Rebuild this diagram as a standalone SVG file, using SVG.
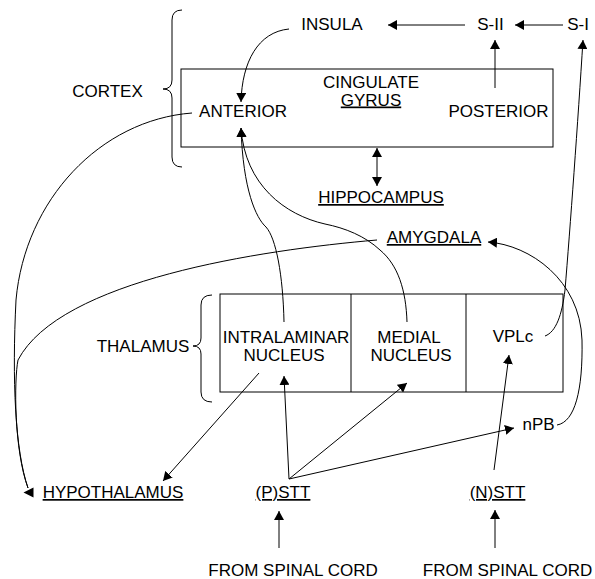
<svg xmlns="http://www.w3.org/2000/svg" width="595" height="579" viewBox="0 0 595 579">
  <style>
    text { font-family: "Liberation Sans", Arial, Helvetica, sans-serif; font-size: 17px; fill: #000; }
    .c { text-anchor: middle; }
    .u { text-decoration: underline; }
    .box, .brace, .wire { fill: none; stroke: #000; stroke-width: 1; }
    .arr { marker-end: url(#head); }
    .both { marker-start: url(#head); marker-end: url(#head); }
  </style>
  <defs>
    <marker id="head" markerUnits="userSpaceOnUse" markerWidth="9" markerHeight="10" viewBox="0 0 9 10" refX="9" refY="5" orient="auto-start-reverse">
      <path d="M0,0 L9,5 L0,10 z" fill="#000"/>
    </marker>
  </defs>

  <rect width="595" height="579" fill="#fff"/>

  <!-- cortex group: bracket, label and cingulate gyrus box -->
  <g id="cortex">
    <path class="brace" d="M 182 10 Q 172 10 172 20 L 172 80 Q 172 89 163 89 Q 172 89 172 98 L 172 157 Q 172 167 182 167"/>
    <text class="c" x="107.5" y="97">CORTEX</text>
  </g>
  <g id="cingulate-gyrus">
    <rect class="box" x="181" y="69" width="372" height="78"/>
    <text class="c" x="371" y="87.5">CINGULATE</text>
    <text class="c u" x="371" y="105.5">GYRUS</text>
  </g>
  <g id="anterior"><text class="c" x="243" y="117">ANTERIOR</text></g>
  <g id="posterior"><text class="c" x="498.5" y="117">POSTERIOR</text></g>

  <g id="insula"><text class="c" x="332" y="30">INSULA</text></g>
  <g id="s-ii"><text class="c" x="490.5" y="30">S-II</text></g>
  <g id="s-i"><text class="c" x="578" y="30">S-I</text></g>

  <g id="hippocampus"><text class="c u" x="381" y="203">HIPPOCAMPUS</text></g>
  <g id="amygdala"><text class="c u" x="434" y="243">AMYGDALA</text></g>

  <!-- thalamus group: bracket, label and the three nuclei -->
  <g id="thalamus">
    <path class="brace" d="M 212 295 Q 201 295 201 305 L 201 338 Q 201 346 193 346 Q 201 346 201 354 L 201 392 Q 201 402 212 402"/>
    <text class="c" x="143" y="352">THALAMUS</text>
    <rect class="box" x="220" y="294" width="343" height="98"/>
    <line class="box" x1="351" y1="294" x2="351" y2="392"/>
    <line class="box" x1="466" y1="294" x2="466" y2="392"/>
  </g>
  <g id="intralaminar-nucleus">
    <text class="c" x="286" y="342.5">INTRALAMINAR</text>
    <text class="c" x="284" y="360.5">NUCLEUS</text>
  </g>
  <g id="medial-nucleus">
    <text class="c" x="409" y="342.5">MEDIAL</text>
    <text class="c" x="411" y="360.5">NUCLEUS</text>
  </g>
  <g id="vplc"><text class="c" x="513" y="342">VPLc</text></g>

  <g id="npb"><text class="c" x="538.5" y="430">nPB</text></g>
  <g id="hypothalamus"><text class="c u" x="113" y="498">HYPOTHALAMUS</text></g>
  <g id="p-stt"><text class="c u" x="283" y="498">(P)STT</text></g>
  <g id="n-stt"><text class="c u" x="497.5" y="498">(N)STT</text></g>
  <g id="spinal-cord-1"><text class="c" x="293" y="576">FROM SPINAL CORD</text></g>
  <g id="spinal-cord-2"><text class="c" x="507.5" y="576">FROM SPINAL CORD</text></g>

  <!-- connectors -->
  <g id="connectors">
    <path class="wire arr" d="M 465 25 L 388 25"/>
    <path class="wire arr" d="M 563 25 L 515 25"/>
    <path class="wire arr" d="M 495 88 L 495 40"/>
    <path class="wire arr" d="M 545 336 C 556 332, 562 315, 565 290 C 570 230, 578 120, 583 40"/>
    <path class="wire arr" d="M 289 29 C 258 32, 242 62, 241 102"/>
    <path class="wire both" d="M 377 148 L 377 186"/>

    <path class="wire arr" d="M 284 322 C 283 275, 276 238, 266 227 C 256 218, 243 190, 241 128"/>
    <path class="wire arr" d="M 407 322 C 406 290, 398 265, 380 250 C 365 236, 345 228, 325 224 C 285 215, 245 185, 241 128"/>

    <path class="wire arr" d="M 557 425 C 575 422, 583 390, 582 340 C 580 280, 530 245, 488 242"/>

    <path class="wire" d="M 377 240 C 260 250, 60 280, 18 360 C 14 380, 14 450, 28 488"/>
    <path class="wire" d="M 192 113 C 100 120, 25 200, 16 300 C 12 380, 15 450, 28 488"/>
    <polygon points="23.5,492.5 33.5,487.5 33.5,497.5" fill="#000"/>

    <path class="wire arr" d="M 259 373 L 163 481"/>

    <path class="wire arr" d="M 289 479 L 284 376"/>
    <path class="wire arr" d="M 289 479 L 407 383"/>
    <path class="wire arr" d="M 289 479 L 514 428"/>
    <path class="wire arr" d="M 494 470 L 509 355"/>

    <path class="wire arr" d="M 279 548 L 279 511"/>
    <path class="wire arr" d="M 495 548 L 495 510"/>
  </g>
</svg>
